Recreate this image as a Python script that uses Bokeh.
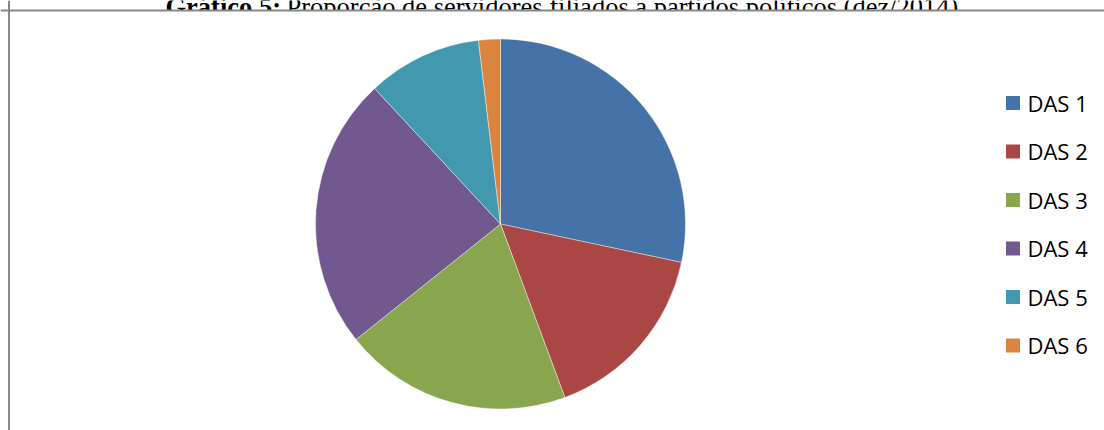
import numpy as np
from bokeh.plotting import figure
from bokeh.models import Range1d, Span, BoxAnnotation, ColumnDataSource
from bokeh.core.properties import value
from bokeh.embed import file_html
from bokeh.resources import INLINE

# ---- data ----
categories = ["DAS 1", "DAS 2", "DAS 3", "DAS 4", "DAS 5", "DAS 6"]
shares = [28.3, 16.0, 19.9, 23.8, 10.0, 1.9]
colors = ["#4572A7", "#AA4643", "#89A54E", "#71588F", "#4198AF", "#DB843D"]
title_bold = "Gráfico 5:"
title_rest = "Proporção de servidores filiados a partidos políticos (dez/2014)"

W, H = 1104, 430
p = figure(width=W, height=H, output_backend="svg", toolbar_location=None,
           x_range=Range1d(0, W), y_range=Range1d(0, H), min_border=0)
p.axis.visible = False
p.grid.visible = False
p.outline_line_color = None
p.background_fill_color = "white"
p.border_fill_color = "white"

# title (partially hidden behind the chart area, as in the reference)
p.text(x=[165], y=[H - 6.7], text=[title_bold], text_font=value("Liberation Serif"),
       text_font_size="26.5px", text_font_style="bold", text_color="black",
       text_baseline="alphabetic", text_align="left", level="image")
p.text(x=[286], y=[H - 6.7], text=[title_rest], text_font=value("Liberation Serif"),
       text_font_size="26.5px", text_color="black",
       text_baseline="alphabetic", text_align="left", level="image")
p.add_layout(BoxAnnotation(left=8, right=W, bottom=0, top=H - 9.5,
                           fill_color="white", fill_alpha=1, line_color=None,
                           level="underlay"))

# pie
vals = np.array(shares, dtype=float)
frac = vals / vals.sum()
cum = np.concatenate([[0], np.cumsum(frac)])
start = np.pi / 2 - cum[:-1] * 2 * np.pi
end = np.pi / 2 - cum[1:] * 2 * np.pi
src = ColumnDataSource(dict(start=start, end=end, color=colors, cat=categories))
p.wedge(x=500, y=H - 223.5, radius=185, start_angle="start", end_angle="end",
        direction="clock", fill_color="color", line_color="white",
        line_alpha=0.5, line_width=0.8, source=src)

# legend
idx = np.arange(len(categories))
ly = H - (102.5 + 48.5 * idx)
p.scatter(x=[1012.5] * len(categories), y=ly, marker="square", size=14,
          fill_color=colors, line_color=None)
p.text(x=[1027] * len(categories), y=ly + 0.5, text=categories,
       text_font=value("Open Sans"), text_font_size="22px", text_color="black",
       text_baseline="middle", text_align="left")

# chart frame
p.add_layout(Span(location=8.5, dimension="height", line_color="#878787", line_width=2))
p.add_layout(Span(location=H - 10, dimension="width", line_color="#878787", line_width=2))

open("out.html", "w").write(file_html(p, INLINE))
